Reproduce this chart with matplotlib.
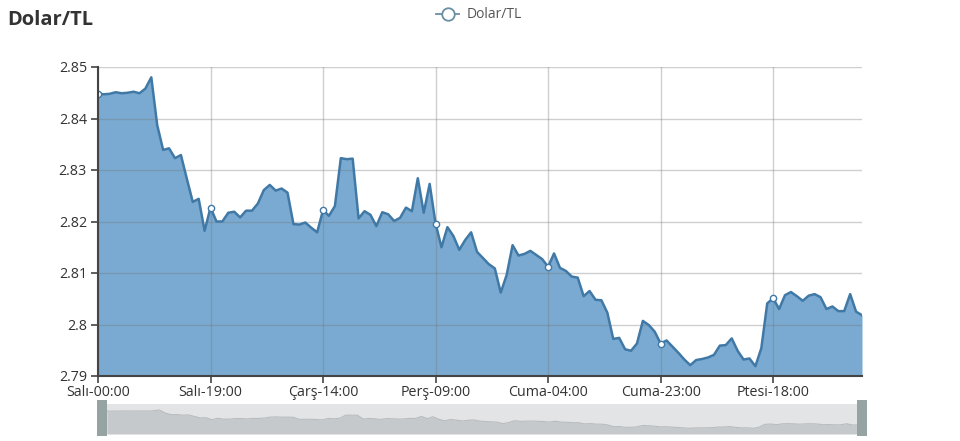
import matplotlib
matplotlib.use("Agg")
import matplotlib.pyplot as plt
from matplotlib.lines import Line2D
from matplotlib.patches import Rectangle
from matplotlib.ticker import FuncFormatter
import numpy as np

plt.rcParams['font.family'] = ['Open Sans', 'DejaVu Sans']

title = "Dolar/TL"
series_name = "Dolar/TL"
values = [
    2.8448, 2.8447, 2.8448, 2.8451, 2.8449, 2.8450, 2.8452, 2.8449, 2.8458, 2.8480,
    2.8387, 2.8339, 2.8342, 2.8323, 2.8329, 2.8283, 2.8238, 2.8244, 2.8182, 2.8227,
    2.8200, 2.8200, 2.8217, 2.8219, 2.8208, 2.8221, 2.8221, 2.8235, 2.8261, 2.8271,
    2.8260, 2.8264, 2.8256, 2.8195, 2.8194, 2.8198, 2.8188, 2.8179, 2.8222, 2.8211,
    2.8230, 2.8323, 2.8321, 2.8322, 2.8206, 2.8220, 2.8213, 2.8191, 2.8218, 2.8214,
    2.8201, 2.8207, 2.8227, 2.8220, 2.8284, 2.8217, 2.8273, 2.8196, 2.8150, 2.8189,
    2.8172, 2.8145, 2.8164, 2.8179, 2.8141, 2.8129, 2.8117, 2.8109, 2.8062, 2.8096,
    2.8154, 2.8134, 2.8137, 2.8143, 2.8135, 2.8127, 2.8112, 2.8138, 2.8110, 2.8104,
    2.8093, 2.8091, 2.8055, 2.8065, 2.8048, 2.8047, 2.8023, 2.7972, 2.7974, 2.7952,
    2.7949, 2.7963, 2.8007, 2.7999, 2.7986, 2.7963, 2.7969, 2.7957, 2.7945, 2.7932,
    2.7921, 2.7931, 2.7933, 2.7936, 2.7941, 2.7959, 2.7960, 2.7973, 2.7949, 2.7932,
    2.7934, 2.7919, 2.7954, 2.8041, 2.8051, 2.8030, 2.8057, 2.8063, 2.8055, 2.8046,
    2.8056, 2.8059, 2.8053, 2.8030, 2.8035, 2.8026, 2.8026, 2.8059, 2.8025, 2.8018,
]
tick_labels = ["Salı-00:00", "Salı-19:00", "Çarş-14:00", "Perş-09:00",
               "Cuma-04:00", "Cuma-23:00", "Ptesi-18:00"]
label_interval = 19
y_ticks = [2.79, 2.80, 2.81, 2.82, 2.83, 2.84, 2.85]

W, H = 960, 441
fig = plt.figure(figsize=(W / 100, H / 100), dpi=100)

line_color = '#4179A6'
fill_color = '#7AAAD1'
text_color = '#333333'

x = np.arange(len(values))
left, right, top, bottom = 98, 862, 67, 376
ax = fig.add_axes([left / W, 1 - bottom / H, (right - left) / W, (bottom - top) / H])
ax.fill_between(x, 2.79, values, color=fill_color, linewidth=0, zorder=1)
ax.plot(x, values, color=line_color, linewidth=1.8, zorder=3)
sym_idx = list(range(0, len(values), label_interval))
ax.plot(x[sym_idx], np.array(values)[sym_idx], linestyle='none', marker='o',
        markersize=4.5, markerfacecolor='white', markeredgecolor=line_color,
        markeredgewidth=1.0, zorder=4)

ax.set_xlim(0, len(values) - 1)
ax.set_ylim(2.79, 2.85)
ax.set_yticks(y_ticks)
ax.yaxis.set_major_formatter(FuncFormatter(lambda v, p: f"{v:g}"))
ax.set_xticks(sym_idx)
ax.set_xticklabels(tick_labels)
ax.set_axisbelow(False)
ax.grid(True, color='#777777', alpha=0.35, linewidth=1.0, zorder=2)
for s in ['top', 'right']:
    ax.spines[s].set_visible(False)
for s in ['left', 'bottom']:
    ax.spines[s].set_color('#444444')
    ax.spines[s].set_linewidth(1.5)
    ax.spines[s].set_zorder(5)
ax.tick_params(axis='both', colors='#444444', labelcolor=text_color,
               labelsize=10.3, length=5, width=1.2)
ax.tick_params(axis='x', pad=1.5)
ax.tick_params(axis='y', pad=3)

# title
fig.text(7 / W, 1 - 20 / H, title, fontsize=14.5, fontweight='bold',
         color='#333333', ha='left', va='center')

# legend
ly = 1 - 14 / H
fig.add_artist(Line2D([436 / W, 459 / W], [ly, ly], color='#6A8FA3', linewidth=1.3))
fig.add_artist(Line2D([447.5 / W], [ly], marker='o', markersize=9,
                      markerfacecolor='white', markeredgecolor='#6A8FA3',
                      markeredgewidth=1.3, linestyle='none'))
fig.text(467 / W, ly, series_name, fontsize=10, color='#555555',
         ha='left', va='center')

# data zoom slider
sl, sr, st, sb = 107, 858, 404, 434
sax = fig.add_axes([sl / W, 1 - sb / H, (sr - sl) / W, (sb - st) / H])
sax.set_xlim(0, len(values) - 1)
vmin, vmax = min(values), max(values)
span = vmax - vmin
sax.set_ylim(vmin - span * 0.31, vmax + span * 0.33)
sax.set_facecolor('#E2E4E6')
sax.fill_between(x, vmin - span * 0.31, values, color='#C6C9CB', linewidth=0)
sax.plot(x, values, color='#B9BCBE', linewidth=0.8)
sax.set_xticks([])
sax.set_yticks([])
for s in sax.spines.values():
    s.set_visible(False)

hc = '#95A3A2'
for hx in (97, 857):
    fig.add_artist(Rectangle((hx / W, 1 - 436 / H), 10 / W, 36 / H,
                             transform=fig.transFigure, facecolor=hc,
                             edgecolor='none'))

fig.savefig('out.png', dpi=100, facecolor='white')
